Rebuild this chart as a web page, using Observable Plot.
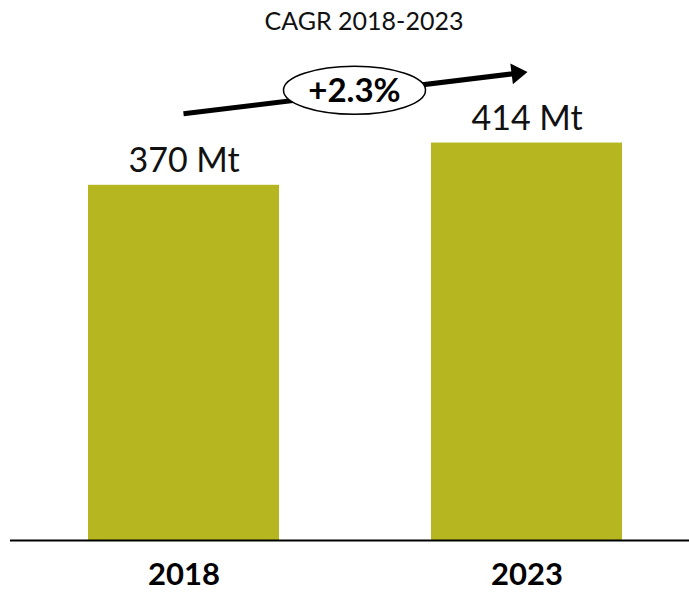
<!DOCTYPE html>
<html>
<head>
<meta charset="utf-8">
<script src="https://cdn.jsdelivr.net/npm/d3@7"></script>
<script src="https://cdn.jsdelivr.net/npm/@observablehq/plot@0.6"></script>
<style>
  html, body { margin: 0; padding: 0; background: #fff; }
  #title { width: 689px; height: 40px; line-height: 40px; text-align: center; box-sizing: border-box; padding-left: 39px;
           font-family: Lato, "Noto Sans", sans-serif; font-size: 25px; color: #111; }
</style>
</head>
<body>
<div id="title"></div>
<div id="chart"></div>
<script>
const titleText = "CAGR 2018-2023";
const years = ["2018", "2023"];
const volumes = [370, 414];
const valueLabels = ["370 Mt", "414 Mt"];
const cagrLabel = "+2.3%";

const rows = years.map((y, i) => ({year: y, value: volumes[i], label: valueLabels[i]}));
document.getElementById("title").textContent = titleText;

const barColor = "#b6b621";
const font = "Lato, 'Noto Sans', sans-serif";

function annotation(index, scales, values, dims) {
  const x = scales.x, y = scales.y;
  const bw = x.bandwidth ? x.bandwidth() : 0;
  const xa = x(years[0]) + bw / 2;
  const xb = x(years[1]) + bw / 2 + 1;
  const ya = y(444), yb = y(487.5);
  const ang = Math.atan2(yb - ya, xb - xa);
  const headLen = 16, headHalf = 10.5;
  const bx = xb - headLen * Math.cos(ang), by = yb - headLen * Math.sin(ang);
  const g = d3.create("svg:g");
  g.append("line").attr("x1", xa).attr("y1", ya).attr("x2", bx + 2 * Math.cos(ang)).attr("y2", by + 2 * Math.sin(ang))
    .attr("stroke", "#000").attr("stroke-width", 5);
  const px = -Math.sin(ang), py = Math.cos(ang);
  g.append("path").attr("d", `M${xb},${yb}L${bx + px * headHalf},${by + py * headHalf}L${bx - px * headHalf},${by - py * headHalf}Z`)
    .attr("fill", "#000");
  const cx = (xa + xb) / 2 - 1, cy = y(468.5);
  g.append("ellipse").attr("cx", cx).attr("cy", cy).attr("rx", 71).attr("ry", 24)
    .attr("fill", "#fff").attr("stroke", "#000").attr("stroke-width", 1.5);
  g.append("text").attr("x", cx).attr("y", cy).attr("dy", "0.36em").attr("text-anchor", "middle")
    .attr("font-family", font).attr("font-weight", "bold").attr("font-size", 33).attr("fill", "#000")
    .text(cagrLabel);
  return g.node();
}

const plot = Plot.plot({
  width: 689,
  height: 552,
  marginLeft: 10,
  marginRight: 0,
  marginTop: 20,
  marginBottom: 52,
  style: {fontFamily: font, background: "#fff", color: "#000"},
  x: {domain: years, range: [88, 622], paddingInner: 0.444, paddingOuter: 0},
  y: {domain: [0, 500], axis: null},
  marks: [
    Plot.barY(rows, {x: "year", y: "value", fill: barColor}),
    Plot.ruleY([0], {stroke: "#000", strokeWidth: 2}),
    Plot.text(rows, {x: "year", y: "value", text: "label", dy: -24, lineAnchor: "middle", fontSize: 34, fill: "#111"}),
    Plot.axisX({tickSize: 0, tickPadding: 22, fontSize: 31, fontWeight: "bold", label: null}),
    annotation
  ]
});
document.getElementById("chart").appendChild(plot);
</script>
</body>
</html>
